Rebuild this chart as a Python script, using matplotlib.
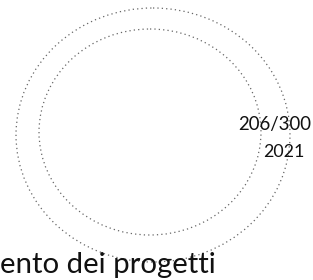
import matplotlib
matplotlib.use("Agg")
from matplotlib import pyplot as plt
from matplotlib.patches import Ellipse

# scanned page fragment: round stamp + protocol number + a cut-off line of body text
# text entries: (string, left x, baseline y, target width in px)
stamp_labels = ["206/300", "2021"]
stamp_left = [238, 263]
stamp_baseline = [130, 157]
stamp_width = [73, 41]

body_text = "ento dei progetti"
body_left = 0
body_baseline = 273
body_width = 215

# stamp rings: (cx, cy, width, height)
rings = [(153, 135, 274, 254), (150, 132, 222, 206)]

FONT = ["Lato", "DejaVu Sans"]

fig = plt.figure(figsize=(3.13, 2.80), dpi=100)
ax = fig.add_axes([0, 0, 1, 1])
ax.set_xlim(0, 313)
ax.set_ylim(280, 0)
ax.axis("off")

for cx, cy, w, h in rings:
    ax.add_patch(Ellipse((cx, cy), w, h, fill=False, edgecolor="#666666",
                         linewidth=0.9, linestyle=(0, (1, 2.5))))


def fitted_text(s, x, y, width):
    # draw at a guess size, then rescale so the ink width matches the scan
    t = ax.text(x, y, s, ha="left", va="baseline", fontsize=12,
                family=FONT, color="#111111")
    r = fig.canvas.get_renderer()
    w = t.get_window_extent(r).width
    t.set_fontsize(12 * width / w)
    return t


for s, x, y, w in zip(stamp_labels, stamp_left, stamp_baseline, stamp_width):
    fitted_text(s, x, y, w)

fitted_text(body_text, body_left, body_baseline, body_width)

fig.savefig("out.png", dpi=100)
